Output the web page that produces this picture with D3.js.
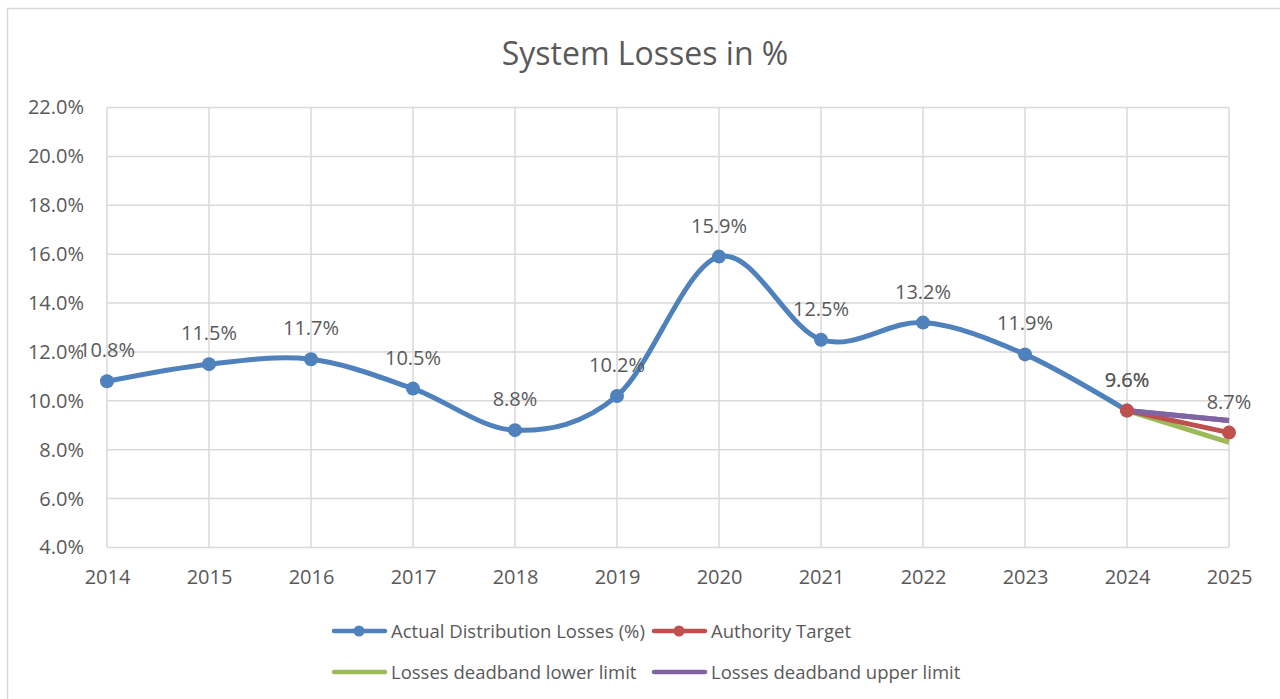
<!DOCTYPE html>
<html>
<head>
<meta charset="utf-8">
<script src="https://cdn.jsdelivr.net/npm/d3@7"></script>
<style>
  body { margin: 0; background: #fff; }
  svg text { font-family: "Open Sans", "Noto Sans", sans-serif; fill: #595959; }
</style>
</head>
<body>
<svg id="chart" width="1280" height="699"></svg>
<script>
var years = ['2014', '2015', '2016', '2017', '2018', '2019', '2020', '2021', '2022', '2023', '2024', '2025'];
var actualYears = ['2014', '2015', '2016', '2017', '2018', '2019', '2020', '2021', '2022', '2023', '2024'];
var actual = [10.8, 11.5, 11.7, 10.5, 8.8, 10.2, 15.9, 12.5, 13.2, 11.9, 9.6];
var targetYears = ['2024', '2025'];
var target = [9.6, 8.7];
var lowerLimit = [9.6, 8.3];
var upperLimit = [9.6, 9.2];
var yTicks = [4, 6, 8, 10, 12, 14, 16, 18, 20, 22];

var svg = d3.select('#chart');

// outer chart frame
svg.append('rect')
    .attr('x', 7.5).attr('y', 8.5)
    .attr('width', 1290).attr('height', 720)
    .attr('fill', 'none')
    .attr('stroke', '#d9d9d9')
    .attr('stroke-width', 1.5);

svg.append('text')
    .attr('x', 645).attr('y', 65)
    .attr('text-anchor', 'middle')
    .style('font-size', '32px')
    .text('System Losses in %');

var x = d3.scalePoint().domain(years).range([107, 1229]);
var y = d3.scaleLinear().domain([4, 22]).range([547.5, 107.5]);

// gridlines
svg.append('g').selectAll('line')
    .data(yTicks)
    .enter().append('line')
    .attr('x1', 107).attr('x2', 1229)
    .attr('y1', d => y(d)).attr('y2', d => y(d))
    .attr('stroke', '#d9d9d9').attr('stroke-width', 1.5);
svg.append('g').selectAll('line')
    .data(years)
    .enter().append('line')
    .attr('x1', d => x(d)).attr('x2', d => x(d))
    .attr('y1', y(4)).attr('y2', y(22))
    .attr('stroke', '#d9d9d9').attr('stroke-width', 1.5);

// axes (labels only)
var yAxis = svg.append('g')
    .attr('transform', 'translate(84,0)')
    .call(d3.axisLeft(y).tickValues(yTicks).tickSize(0).tickPadding(0).tickFormat(d => d.toFixed(1) + '%'));
yAxis.select('.domain').remove();
yAxis.selectAll('text').style('font-size', '20px').attr('fill', '#595959');

var xAxis = svg.append('g')
    .attr('transform', 'translate(0,' + (y(4) + 16) + ')')
    .call(d3.axisBottom(x).tickSize(0).tickPadding(6));
xAxis.select('.domain').remove();
xAxis.selectAll('text').style('font-size', '20px').attr('fill', '#595959');

var line = d3.line()
    .x(d => x(d.year))
    .y(d => y(d.v));

var actualData = actualYears.map((yr, i) => ({year: yr, v: actual[i]}));
var targetData = targetYears.map((yr, i) => ({year: yr, v: target[i]}));
var lowerData = targetYears.map((yr, i) => ({year: yr, v: lowerLimit[i]}));
var upperData = targetYears.map((yr, i) => ({year: yr, v: upperLimit[i]}));

svg.append('path')
    .datum(actualData)
    .attr('d', line.curve(d3.curveCardinal.tension(0)))
    .attr('fill', 'none')
    .attr('stroke', '#4f81bd')
    .attr('stroke-width', 5)
    .attr('stroke-linecap', 'round');

svg.append('g').selectAll('circle')
    .data(actualData)
    .enter().append('circle')
    .attr('cx', d => x(d.year)).attr('cy', d => y(d.v))
    .attr('r', 7)
    .attr('fill', '#4f81bd');

var straight = d3.line().x(d => x(d.year)).y(d => y(d.v));

svg.append('path')
    .datum(lowerData)
    .attr('d', straight)
    .attr('fill', 'none').attr('stroke', '#9bbb59').attr('stroke-width', 5);
svg.append('path')
    .datum(upperData)
    .attr('d', straight)
    .attr('fill', 'none').attr('stroke', '#8064a2').attr('stroke-width', 5);
svg.append('path')
    .datum(targetData)
    .attr('d', straight)
    .attr('fill', 'none').attr('stroke', '#c0504d').attr('stroke-width', 5);
svg.append('g').selectAll('circle')
    .data(targetData)
    .enter().append('circle')
    .attr('cx', d => x(d.year)).attr('cy', d => y(d.v))
    .attr('r', 7)
    .attr('fill', '#c0504d');
// purple line sits over the 2024 marker in the reference
svg.append('path')
    .datum(upperData)
    .attr('d', straight)
    .attr('fill', 'none').attr('stroke', '#8064a2').attr('stroke-width', 5)
    .attr('stroke-dasharray', '0,7,200');

// data labels
svg.append('g').selectAll('text')
    .data(actualData.concat(targetData))
    .enter().append('text')
    .attr('x', d => x(d.year))
    .attr('y', d => y(d.v) - 24)
    .attr('text-anchor', 'middle')
    .style('font-size', '20px')
    .text(d => d.v.toFixed(1) + '%');

// legend
var legend = [
    {name: 'Actual Distribution Losses (%)', color: '#4f81bd', marker: true, x: 332, y: 631},
    {name: 'Authority Target', color: '#c0504d', marker: true, x: 652, y: 631},
    {name: 'Losses deadband lower limit', color: '#9bbb59', marker: false, x: 332, y: 672},
    {name: 'Losses deadband upper limit', color: '#8064a2', marker: false, x: 652, y: 672}
];
var lg = svg.append('g').selectAll('g')
    .data(legend)
    .enter().append('g')
    .attr('transform', d => 'translate(' + d.x + ',' + d.y + ')');
lg.append('line')
    .attr('x1', 2).attr('x2', 53)
    .attr('stroke', d => d.color)
    .attr('stroke-width', 4.5)
    .attr('stroke-linecap', 'round');
lg.filter(d => d.marker).append('circle')
    .attr('cx', 27).attr('r', 5.5)
    .attr('fill', d => d.color);
lg.append('text')
    .attr('x', 59).attr('y', 6.5)
    .style('font-size', '18.5px')
    .text(d => d.name);
</script>
</body>
</html>
